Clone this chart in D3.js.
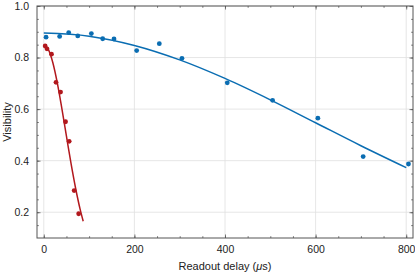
<!DOCTYPE html>
<html><head>
<meta charset="utf-8"/>
<script src="https://d3js.org/d3.v7.min.js"></script>
<style>
  body { margin: 0; padding: 0; width: 415px; height: 273px; background: #fff; font-family: 'Liberation Sans', Arial, sans-serif; }
  .tick text { font-family: 'Liberation Sans', Arial, sans-serif; }
</style>
</head>
<body>
<div id="chart"></div>
<script>
// Blue series: long delay measurement
const blueDelay = [5, 35, 55, 75, 105, 130, 155, 205, 255, 305, 405, 505, 605, 705, 805];
const blueVis   = [0.879, 0.882, 0.897, 0.884, 0.893, 0.873, 0.872, 0.827, 0.854, 0.797, 0.702, 0.634, 0.565, 0.416, 0.387];
const blueFitDelay = [0, 100, 200, 300, 400, 500, 600, 700, 800];
const blueFitVis   = [0.895, 0.883, 0.847, 0.791, 0.719, 0.636, 0.547, 0.458, 0.373];

// Red series: short delay measurement
const redDelay = [3, 7, 17, 27, 37, 48, 56, 67, 77];
const redVis   = [0.845, 0.834, 0.813, 0.704, 0.666, 0.551, 0.475, 0.284, 0.194];
const redFitDelay = [2, 10, 20, 30, 40, 50, 60, 70, 80, 87];
const redFitVis   = [0.849, 0.832, 0.780, 0.700, 0.601, 0.495, 0.390, 0.295, 0.213, 0.165];

const xTicks = [0, 200, 400, 600, 800];
const yTicks = [0.2, 0.4, 0.6, 0.8, 1.0];

const W = 415, H = 273;
const margin = { top: 6, right: 2, bottom: 35, left: 37 };
const width = W - margin.left - margin.right;
const height = H - margin.top - margin.bottom;

const blue = "#0a6db2", red = "#b2181d", frame = "#555";

const svg = d3.select("#chart").append("svg")
    .attr("width", W).attr("height", H);
const g = svg.append("g").attr("transform", `translate(${margin.left},${margin.top})`);

const x = d3.scaleLinear().domain([-15, 815]).range([0, width]);
const y = d3.scaleLinear().domain([0.1, 1.0]).range([height, 0]);

// grid
g.append("g").selectAll("line").data(xTicks).enter().append("line")
    .attr("x1", d => x(d)).attr("x2", d => x(d)).attr("y1", 0).attr("y2", height)
    .attr("stroke", "#e0e0e0").attr("stroke-width", 0.8);
g.append("g").selectAll("line").data(yTicks).enter().append("line")
    .attr("y1", d => y(d)).attr("y2", d => y(d)).attr("x1", 0).attr("x2", width)
    .attr("stroke", "#e0e0e0").attr("stroke-width", 0.8);

// axes with inward ticks on all four sides
const xMinor = d3.range(0, 801, 50);
const yMinor = d3.range(0.15, 1.0001, 0.05);
function styleAxis(sel) {
  sel.select(".domain").remove();
  sel.selectAll(".tick line").attr("stroke", frame).attr("stroke-width", 0.8);
  sel.selectAll(".tick text").attr("fill", "#222").style("font-size", "10.5px");
}
g.append("g").attr("transform", `translate(0,${height})`)
    .call(d3.axisBottom(x).tickValues(xMinor).tickFormat("").tickSizeInner(-1.8).tickSizeOuter(0)).call(styleAxis);
g.append("g").attr("transform", `translate(0,${height})`)
    .call(d3.axisBottom(x).tickValues(xTicks).tickFormat(d3.format("d")).tickSizeInner(-3.5).tickPadding(8).tickSizeOuter(0)).call(styleAxis);
g.append("g")
    .call(d3.axisTop(x).tickValues(xMinor).tickFormat("").tickSizeInner(-1.8).tickSizeOuter(0)).call(styleAxis);
g.append("g")
    .call(d3.axisTop(x).tickValues(xTicks).tickFormat("").tickSizeInner(-3.5).tickSizeOuter(0)).call(styleAxis);
g.append("g")
    .call(d3.axisLeft(y).tickValues(yMinor).tickFormat("").tickSizeInner(-1.8).tickSizeOuter(0)).call(styleAxis);
g.append("g")
    .call(d3.axisLeft(y).tickValues(yTicks).tickFormat(d3.format(".1f")).tickSizeInner(-3.5).tickPadding(8).tickSizeOuter(0)).call(styleAxis);
g.append("g").attr("transform", `translate(${width},0)`)
    .call(d3.axisRight(y).tickValues(yMinor).tickFormat("").tickSizeInner(-1.8).tickSizeOuter(0)).call(styleAxis);
g.append("g").attr("transform", `translate(${width},0)`)
    .call(d3.axisRight(y).tickValues(yTicks).tickFormat("").tickSizeInner(-3.5).tickSizeOuter(0)).call(styleAxis);

// frame
g.append("rect").attr("width", width).attr("height", height)
    .attr("fill", "none").attr("stroke", frame).attr("stroke-width", 1);

// fit lines
const line = d3.line().x(d => x(d[0])).y(d => y(d[1])).curve(d3.curveMonotoneX);
g.append("path").datum(blueFitDelay.map((d, i) => [d, blueFitVis[i]]))
    .attr("d", line).attr("fill", "none").attr("stroke", blue).attr("stroke-width", 1.5);
g.append("path").datum(redFitDelay.map((d, i) => [d, redFitVis[i]]))
    .attr("d", line).attr("fill", "none").attr("stroke", red).attr("stroke-width", 1.5);

// data points
g.append("g").selectAll("circle").data(blueDelay).enter().append("circle")
    .attr("cx", d => x(d)).attr("cy", (d, i) => y(blueVis[i])).attr("r", 2.4).attr("fill", blue);
g.append("g").selectAll("circle").data(redDelay).enter().append("circle")
    .attr("cx", d => x(d)).attr("cy", (d, i) => y(redVis[i])).attr("r", 2.4).attr("fill", red);

// labels
svg.append("text").attr("x", margin.left + width / 2).attr("y", 270)
    .attr("text-anchor", "middle").style("font-size", "11px").attr("fill", "#222")
    .html('Readout delay (<tspan font-style="italic">μ</tspan>s)');
svg.append("text").attr("transform", `translate(11,${margin.top + height / 2}) rotate(-90)`)
    .attr("text-anchor", "middle").style("font-size", "11px").attr("fill", "#222")
    .text("Visibility");
</script>
</body></html>
